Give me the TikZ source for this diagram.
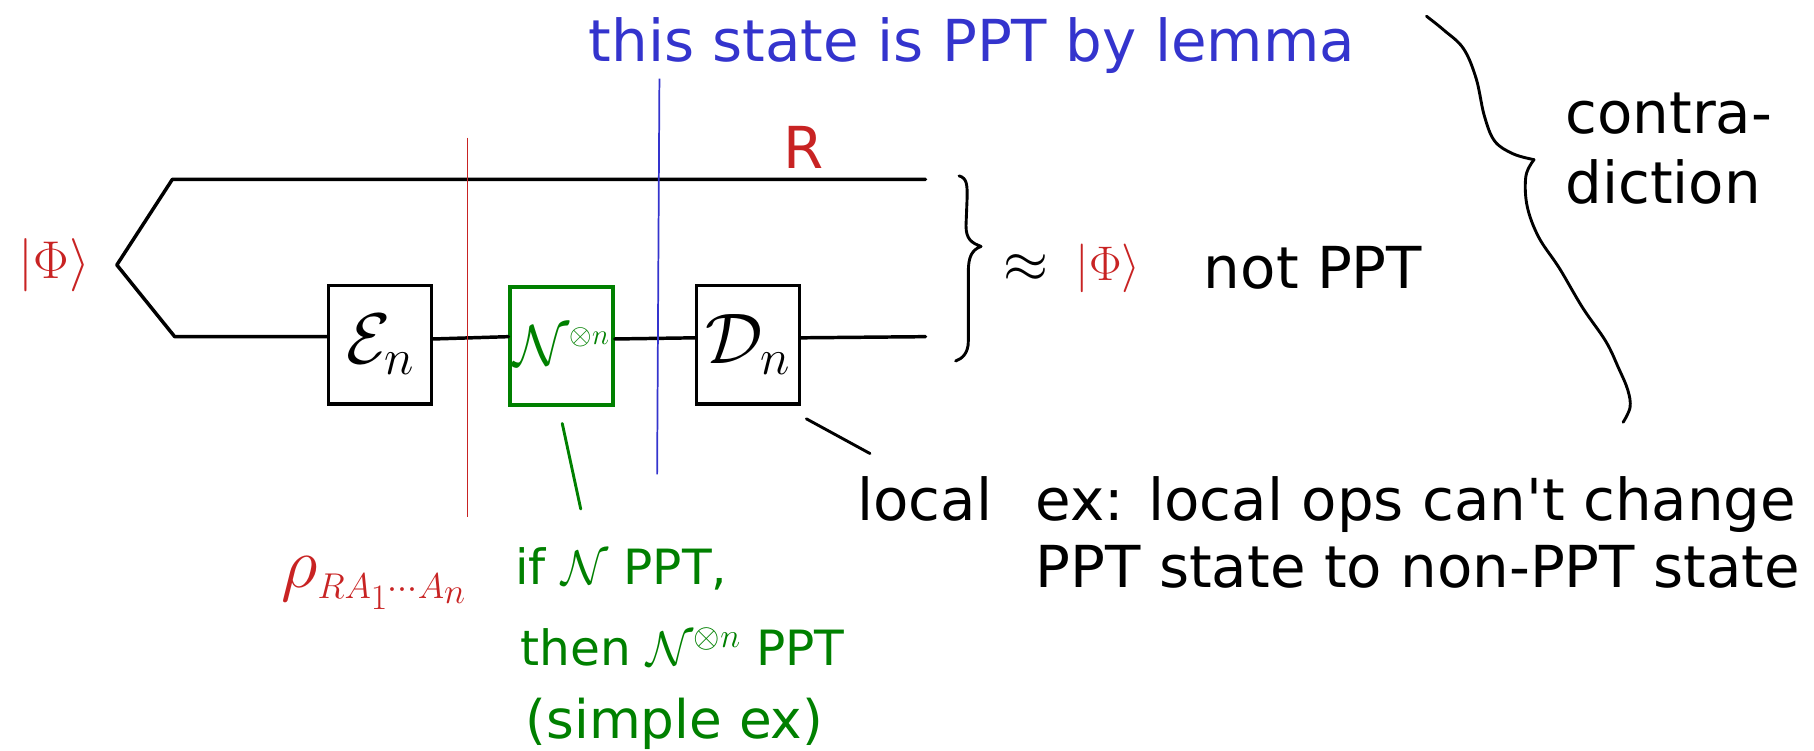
\RequirePackage{fix-cm}
\documentclass[tikz,border=0pt]{standalone}
\usepackage{amsmath}
\usepackage{fontspec}
\setmainfont{DejaVu Sans}[Ligatures=TeXOff]
\definecolor{inkred}{RGB}{200,35,35}
\definecolor{inkblue}{RGB}{52,52,205}
\definecolor{inkgreen}{RGB}{0,128,0}

\begin{document}
\begin{tikzpicture}[x=1pt,y=-1pt,
  wire/.style={line width=3pt, line cap=round, line join=round},
  opbox/.style={draw, line width=3pt, minimum width=89pt, minimum height=102pt, inner sep=0pt},
  typed/.style={font=\fontsize{50}{60}\selectfont, inner sep=0pt},
  hand/.style={font=\fontsize{42}{50}\selectfont, inner sep=0pt},
  cut/.style={line width=1.5pt},
  pen/.style={line width=2.5pt, line cap=round, line join=round}]
\useasboundingbox (0,0) rectangle (1568,649);

% operation boxes on the lower wire
\node[opbox] (E) at (328.5,298) {\fontsize{62}{70}\selectfont$\mathcal{E}_n$};
\node[opbox, draw=inkgreen, text=inkgreen] (N) at (485.5,299) {\fontsize{50}{58}\selectfont$\mathcal{N}^{\scriptscriptstyle\otimes n}$};
\node[opbox] (D) at (646.5,298) {\fontsize{62}{70}\selectfont$\mathcal{D}_n$};

% wire end points
\coordinate (apex) at (101,229);
\coordinate (topL) at (149,155);
\coordinate (topR) at (800,155);
\coordinate (botL) at (151,291);
\coordinate (botR) at (800,291);

% the two wires
\draw[wire] (topR) -- (topL) -- (apex) -- (botL) -- (E.west |- botL);
\draw[wire] ([yshift=5pt]E.east) -- ([yshift=8pt]N.west);
\draw[wire] ([yshift=6pt]N.east) -- ([yshift=6pt]D.west);
\draw[wire] ([yshift=6pt]D.east) -- (botR);

% cuts through the circuit
\coordinate (redtop) at (404,119);
\coordinate (redbot) at (404,447);
\coordinate (bluetop) at (570,68);
\coordinate (bluebot) at (568,410);
\draw[cut, inkred] (redtop) -- (redbot);
\draw[cut, inkblue] (bluetop) -- (bluebot);

% labels on the circuit
\node[typed, text=inkblue, anchor=base] (title) at (840,53) {this state is PPT by lemma};
\node[typed, text=inkred, anchor=base] (rlabel) at (695,146) {R};
\node[hand, text=inkred, font=\fontsize{46}{54}\selectfont] (phiL) at (47,229) {$|\Phi\rangle$};

% small brace on the output wires
\draw[pen] (829,152) .. controls (836,154) and (836,160) .. (836,170)
  -- (835,195) .. controls (835,207) and (840,210) .. (848,213)
  .. controls (840,216) and (837,222) .. (837,235)
  -- (837,295) .. controls (837,305) and (832,310) .. (826,312);

\node[typed, anchor=center] (approx) at (887,232) {$\approx$};
\node[hand, text=inkred] (phiR) at (958,232) {$|\Phi\rangle$};
\node[typed, anchor=base] (notppt) at (1135,249) {not PPT};

% large brace spanning the argument
\draw[pen] plot[smooth, tension=0.6] coordinates {(1233,14) (1248,26) (1265,42) (1276,68) (1283,100) (1292,122) (1308,133) (1326,138)};
\draw[pen] plot[smooth, tension=0.6] coordinates {(1326,138) (1319,152) (1320,178) (1330,205) (1348,232) (1368,266) (1388,295) (1399,318) (1407,337) (1409,352) (1403,365)};

\node[typed, anchor=base west] (contra) at (1353,115) {contra-};
\node[typed, anchor=base west] (diction) at (1353,176) {diction};

% local operations
\coordinate (localtip) at (697,362);
\coordinate (localend) at (752,392);
\draw[pen] (localtip) -- (localend);
\node[typed, anchor=base west] (local) at (741,450) {local};
\node[typed, anchor=base west] (ex1) at (895,450) {ex: local ops can't change};
\node[typed, anchor=base west] (ex2) at (895,508) {PPT state to non-PPT state};

% channel remark
\coordinate (greentip) at (486,366);
\coordinate (greenend) at (502,440);
\draw[pen, inkgreen] (greentip) -- (greenend);
\node[text=inkred, inner sep=0pt, anchor=base west] (rho) at (243,508) {\fontsize{62}{70}\selectfont$\rho_{\scriptscriptstyle RA_1\cdots A_n}$};
\node[hand, text=inkgreen, anchor=base west] (if) at (445,505) {if $\mathcal{N}$ PPT,};
\node[hand, text=inkgreen, anchor=base west] (then) at (450,575) {then $\mathcal{N}^{\otimes n}$ PPT};
\node[typed, text=inkgreen, anchor=base, font=\fontsize{46}{56}\selectfont] (simple) at (583,638) {(simple ex)};
\end{tikzpicture}
\end{document}
